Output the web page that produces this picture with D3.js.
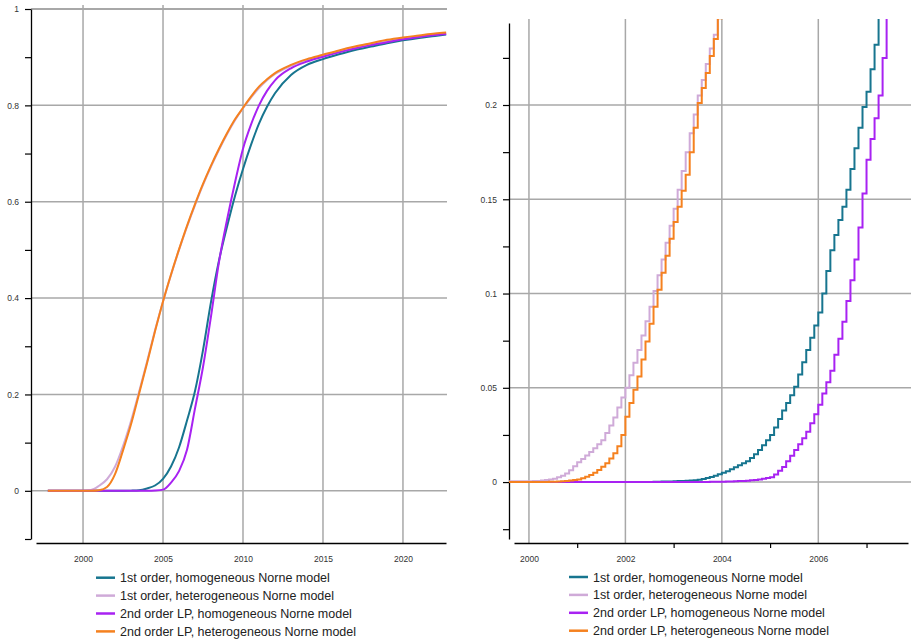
<!DOCTYPE html>
<html>
<head>
<meta charset="utf-8">
<script src="https://cdn.jsdelivr.net/npm/d3@7"></script>
<style>
    body { margin: 0; background: #fff; }
    text { font-family: "Liberation Sans", Arial, sans-serif; }
</style>
</head>
<body>
<div id="chart"></div>
<script>
var width = 911,
        height = 641;

var seriesNames = [
    "1st order, homogeneous Norne model",
    "1st order, heterogeneous Norne model",
    "2nd order LP, homogeneous Norne model",
    "2nd order LP, heterogeneous Norne model"
];
var seriesColors = ["#17758f", "#cfaad8", "#a822f2", "#f5811f"];

// full period (left panel)
var fullYears = [1997.8, 1999, 2000, 2000.5, 2001, 2001.5, 2002, 2002.5, 2003, 2003.5, 2004, 2004.5,
    2005, 2005.5, 2006, 2006.5, 2007, 2007.5, 2008, 2008.5, 2009, 2009.5, 2010, 2010.5, 2011, 2011.5,
    2012, 2013, 2014, 2015, 2016, 2017, 2018, 2019, 2020, 2021, 2022, 2022.7];
var homFirst = [0, 0, 0, 0, 0, 0, 0, 0.0001, 0.0004, 0.0012, 0.0049, 0.011,
    0.025, 0.0505, 0.090, 0.146, 0.207, 0.292, 0.392, 0.478, 0.548, 0.612, 0.668, 0.718, 0.762, 0.797,
    0.825, 0.863, 0.884, 0.896, 0.906, 0.915, 0.922, 0.929, 0.935, 0.940, 0.944, 0.947];
var hetFirst = [0, 0.0001, 0.0004, 0.0018, 0.0105, 0.024, 0.050, 0.093, 0.145, 0.205, 0.268, 0.333,
    0.393, 0.448, 0.500, 0.548, 0.593, 0.635, 0.673, 0.708, 0.740, 0.769, 0.794, 0.816, 0.836, 0.852,
    0.865, 0.882, 0.894, 0.903, 0.912, 0.920, 0.927, 0.934, 0.939, 0.943, 0.947, 0.949];
var homSecond = [0, 0, 0, 0, 0, 0, 0, 0, 0, 0.0001, 0.0002, 0.0007,
    0.0025, 0.017, 0.041, 0.085, 0.171, 0.257, 0.362, 0.475, 0.562, 0.640, 0.710, 0.760, 0.800, 0.830,
    0.852, 0.877, 0.891, 0.901, 0.910, 0.918, 0.925, 0.931, 0.937, 0.942, 0.946, 0.948];
var hetSecond = [0, 0, 0, 0.0002, 0.0014, 0.0081, 0.0347, 0.084, 0.138, 0.201, 0.265, 0.331,
    0.393, 0.449, 0.501, 0.550, 0.595, 0.637, 0.675, 0.710, 0.742, 0.771, 0.795, 0.818, 0.839, 0.854,
    0.867, 0.884, 0.896, 0.905, 0.914, 0.922, 0.929, 0.936, 0.941, 0.945, 0.949, 0.951];

// monthly values (right panel, zoomed)
var hetMonthStart = 2000,
        homMonthStart = 2002;
var hetFirstMonthly = [0.0004, 0.0005, 0.0006, 0.0008, 0.0011, 0.0014, 0.0018, 0.0025, 0.0034, 0.0045, 0.0063, 0.0084,
    0.0105, 0.0123, 0.0141, 0.0160, 0.0180, 0.0200, 0.0222, 0.0260, 0.0300, 0.0342, 0.0395, 0.0448,
    0.0500, 0.0567, 0.0633, 0.0700, 0.0777, 0.0853, 0.0930, 0.1013, 0.1097, 0.1180, 0.1270, 0.1360,
    0.1450, 0.1550, 0.1650, 0.1750, 0.1850, 0.1950, 0.2050, 0.2133, 0.2217, 0.2300, 0.2373, 0.2470, 0.2540];
var hetSecondMonthly = [0.0000, 0.0000, 0.0001, 0.0001, 0.0001, 0.0002, 0.0002, 0.0003, 0.0004, 0.0006, 0.0008, 0.0011,
    0.0014, 0.0020, 0.0028, 0.0037, 0.0050, 0.0064, 0.0081, 0.0100, 0.0125, 0.0153, 0.0190, 0.0250,
    0.0347, 0.0420, 0.0490, 0.0560, 0.0650, 0.0745, 0.0840, 0.0930, 0.1020, 0.1110, 0.1200, 0.1290,
    0.1380, 0.1460, 0.1545, 0.1630, 0.1750, 0.1880, 0.2010, 0.2090, 0.2170, 0.2260, 0.2350, 0.2460, 0.2520];
var homFirstMonthly = [0.0000, 0.0000, 0.0000, 0.0001, 0.0001, 0.0001, 0.0001, 0.0002, 0.0002, 0.0003, 0.0003, 0.0003,
    0.0004, 0.0005, 0.0006, 0.0007, 0.0008, 0.0009, 0.0012, 0.0016, 0.0021, 0.0027, 0.0034, 0.0041,
    0.0049, 0.0058, 0.0068, 0.0078, 0.0089, 0.0100, 0.0110, 0.0128, 0.0148, 0.0170, 0.0195, 0.0222,
    0.0250, 0.0290, 0.0335, 0.0380, 0.0420, 0.0460, 0.0505, 0.0570, 0.0635, 0.0700, 0.0765, 0.0830,
    0.0900, 0.1000, 0.1120, 0.1230, 0.1310, 0.1390, 0.1460, 0.1550, 0.1660, 0.1770, 0.1880, 0.1990,
    0.2070, 0.2190, 0.2320, 0.2470, 0.2560];
var homSecondMonthly = [0, 0, 0, 0, 0, 0, 0, 0, 0, 0, 0, 0,
    0.0000, 0.0000, 0.0000, 0.0001, 0.0001, 0.0001, 0.0001, 0.0001, 0.0001, 0.0002, 0.0002, 0.0002,
    0.0002, 0.0003, 0.0003, 0.0004, 0.0005, 0.0006, 0.0007, 0.0009, 0.0011, 0.0013, 0.0017, 0.0021,
    0.0025, 0.0040, 0.0060, 0.0080, 0.0110, 0.0140, 0.0170, 0.0200, 0.0233, 0.0267, 0.0312, 0.0360,
    0.0410, 0.0470, 0.0530, 0.0590, 0.0675, 0.0760, 0.0850, 0.0960, 0.1070, 0.1180, 0.1350, 0.1530,
    0.1710, 0.1820, 0.1930, 0.2050, 0.2250, 0.2470, 0.2560];

// ticks
var leftYTicks = [0, 0.2, 0.4, 0.6, 0.8, 1];
var leftYMinor = [-0.1, 0.1, 0.3, 0.5, 0.7, 0.9];
var leftXTicks = [2000, 2005, 2010, 2015, 2020];
var rightYTicks = [0, 0.05, 0.1, 0.15, 0.2];
var rightYMinor = [-0.025, 0.025, 0.075, 0.125, 0.175, 0.225];
var rightXTicks = [2000, 2002, 2004, 2006];
var rightXMinor = [2001, 2003, 2005, 2007];

var svg = d3.select("#chart").append("svg")
        .attr("width", width)
        .attr("height", height);

var gridColor = "#a8a8a8";

function drawPanel(opt) {
    var g = svg.append("g").attr("class", opt.id);
    var x = opt.x, y = opt.y;

    g.append("clipPath").attr("id", opt.id + "-clip")
            .append("rect")
            .attr("x", opt.left)
            .attr("y", opt.top)
            .attr("width", opt.right - opt.left)
            .attr("height", opt.bottom - opt.top);

    // grid
    g.append("g").selectAll("line")
            .data(opt.yTicks)
            .enter().append("line")
            .attr("x1", opt.left)
            .attr("x2", opt.right)
            .attr("y1", function (d) { return y(d); })
            .attr("y2", function (d) { return y(d); })
            .attr("stroke", gridColor)
            .attr("stroke-width", function (d, i) { return i === opt.yTicks.length - 1 && opt.id === "left" ? 2.2 : 1.5; });
    g.append("g").selectAll("line")
            .data(opt.xTicks)
            .enter().append("line")
            .attr("x1", function (d) { return x(d); })
            .attr("x2", function (d) { return x(d); })
            .attr("y1", opt.top)
            .attr("y2", 543)
            .attr("stroke", gridColor)
            .attr("stroke-width", 1.5);

    // axes
    var yAxis = d3.axisLeft(y)
            .tickValues(opt.yTicks.concat(opt.yMinor))
            .tickSize(6)
            .tickSizeOuter(0)
            .tickPadding(6)
            .tickFormat(function (d) {
                return opt.yTicks.indexOf(d) >= 0 ? String(d) : "";
            });
    var ya = g.append("g")
            .attr("transform", "translate(" + opt.left + ",0)")
            .call(yAxis);

    var xa = g.append("g")
            .attr("transform", "translate(0,543)")
            .call(d3.axisBottom(x).tickValues(opt.xTicks).tickSize(0).tickSizeOuter(0).tickPadding(13)
                    .tickFormat(d3.format("d")));
    if (opt.xMinor) {
        var xm = g.append("g")
                .attr("transform", "translate(0,543)")
                .call(d3.axisBottom(x).tickValues(opt.xMinor).tickSize(5).tickSizeOuter(0).tickFormat(""));
        xm.select(".domain").remove();
        xm.selectAll("line").attr("stroke-width", 1.2);
    }
    [ya, xa].forEach(function (a) {
        a.select(".domain").attr("stroke", "#000").attr("stroke-width", 1.3);
        a.selectAll(".tick line").attr("stroke", "#000").attr("stroke-width", 1.2);
        a.selectAll("text")
                .attr("fill", "#333")
                .style("font-size", "8.5px")
                .style("font-family", "'Liberation Sans', Arial, sans-serif");
    });

    // series
    var lines = g.append("g").attr("clip-path", "url(#" + opt.id + "-clip)");
    opt.series.forEach(function (s, i) {
        lines.append("path")
                .datum(s)
                .attr("fill", "none")
                .attr("stroke", seriesColors[i])
                .attr("stroke-width", 2)
                .attr("stroke-linejoin", "miter")
                .attr("d", d3.line()
                        .x(function (d) { return x(d[0]); })
                        .y(function (d) { return y(d[1]); })
                        .curve(opt.curve));
    });

    // legend
    var lg = svg.append("g")
            .attr("transform", "translate(" + opt.legendX + "," + opt.legendY + ")");
    var row = lg.selectAll("g")
            .data(seriesNames)
            .enter().append("g")
            .attr("transform", function (d, i) { return "translate(0," + (i * 17.9) + ")"; });
    row.append("line")
            .attr("x1", 0)
            .attr("x2", 19)
            .attr("stroke", function (d, i) { return seriesColors[i]; })
            .attr("stroke-width", 2.5);
    row.append("text")
            .attr("x", 24)
            .attr("y", 4.5)
            .attr("fill", "#222")
            .style("font-size", "12.5px")
            .text(function (d) { return d; });
}

function pairs(xs, ys) {
    return ys.map(function (v, i) { return [xs[i], v]; });
}

function monthly(start, vals, from) {
    var pts = [[from, vals[0]]];
    vals.forEach(function (v, i) { pts.push([start + i / 12, v]); });
    return pts;
}

// left: whole period
var xL = d3.scaleLinear().domain([1997.06, 2022.69]).range([36, 446]);
var yL = d3.scaleLinear().domain([-0.1, 1]).range([539, 9]);
drawPanel({
    id: "left",
    x: xL, y: yL,
    left: 31, right: 447, top: 5, bottom: 539,
    yTicks: leftYTicks, yMinor: leftYMinor,
    xTicks: leftXTicks,
    curve: d3.curveMonotoneX,
    series: [
        pairs(fullYears, homFirst),
        pairs(fullYears, hetFirst),
        pairs(fullYears, homSecond),
        pairs(fullYears, hetSecond)
    ],
    legendX: 96, legendY: 577.7
});

// right: zoom on the early years
var xR = d3.scaleLinear().domain([1999.69, 2007.86]).range([514, 908]);
var yR = d3.scaleLinear().domain([-0.0302, 0.2435]).range([539, 23]);
var rightFrom = xR.invert(509);
drawPanel({
    id: "right",
    x: xR, y: yR,
    left: 509, right: 911, top: 19, bottom: 539,
    yTicks: rightYTicks, yMinor: rightYMinor,
    xTicks: rightXTicks, xMinor: rightXMinor,
    curve: d3.curveStepAfter,
    series: [
        monthly(homMonthStart, homFirstMonthly, rightFrom),
        monthly(hetMonthStart, hetFirstMonthly, rightFrom),
        monthly(homMonthStart, homSecondMonthly, rightFrom),
        monthly(hetMonthStart, hetSecondMonthly, rightFrom)
    ],
    legendX: 569, legendY: 577
});
</script>
</body>
</html>
